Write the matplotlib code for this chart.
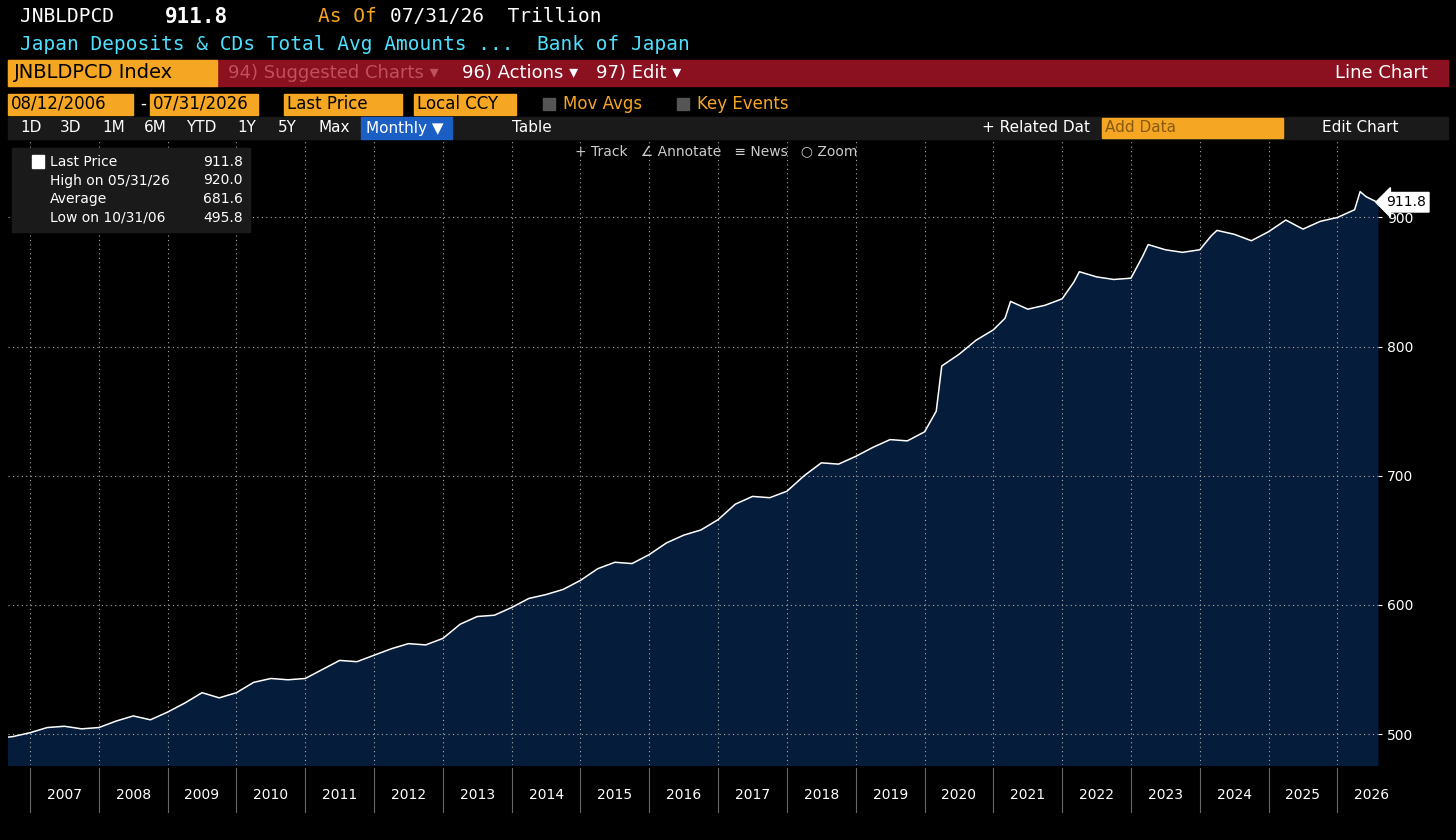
import numpy as np
import matplotlib.pyplot as plt
from matplotlib.patches import Rectangle

# decimal years and values
years = [2006.58, 2006.75, 2007.0, 2007.25, 2007.5, 2007.75, 2008.0, 2008.25, 2008.5, 2008.75,
         2009.0, 2009.25, 2009.5, 2009.75, 2010.0, 2010.25, 2010.5, 2010.75, 2011.0, 2011.25,
         2011.5, 2011.75, 2012.0, 2012.25, 2012.5, 2012.75, 2013.0, 2013.25, 2013.5, 2013.75,
         2014.0, 2014.25, 2014.5, 2014.75, 2015.0, 2015.25, 2015.5, 2015.75, 2016.0, 2016.25,
         2016.5, 2016.75, 2017.0, 2017.25, 2017.5, 2017.75, 2018.0, 2018.25, 2018.5, 2018.75,
         2019.0, 2019.25, 2019.5, 2019.75, 2020.0, 2020.17, 2020.25, 2020.5, 2020.75, 2021.0,
         2021.17, 2021.25, 2021.5, 2021.75, 2022.0, 2022.17, 2022.25, 2022.5, 2022.75, 2023.0,
         2023.17, 2023.25, 2023.5, 2023.75, 2024.0, 2024.17, 2024.25, 2024.5, 2024.75, 2025.0,
         2025.25, 2025.5, 2025.75, 2026.0, 2026.25, 2026.33, 2026.42, 2026.58]
values = [497, 498, 501, 505, 506, 504, 505, 510, 514, 511,
          517, 524, 532, 528, 532, 540, 543, 542, 543, 550,
          557, 556, 561, 566, 570, 569, 574, 585, 591, 592,
          598, 605, 608, 612, 619, 628, 633, 632, 639, 648,
          654, 658, 666, 678, 684, 683, 688, 700, 710, 709,
          715, 722, 728, 727, 734, 750, 785, 794, 805, 813,
          822, 835, 829, 832, 837, 850, 858, 854, 852, 853,
          870, 879, 875, 873, 875, 886, 890, 887, 882, 889,
          898, 891, 897, 900, 906, 920, 916, 911.8]
year_labels = list(range(2007, 2027))
y_ticks = [500, 600, 700, 800, 900]

W, H = 1456, 840
fig = plt.figure(figsize=(W / 100, H / 100), dpi=100, facecolor='black')
mono = 'DejaVu Sans Mono'
orange = '#f5a623'
cyan = '#4de0ff'

def px(x, y):
    return x / W, 1 - y / H

# header
fig.text(*px(20, 17), 'JNBLDPCD', color='white', family=mono, fontsize=14, va='center')
fig.text(*px(165, 17), '911.8', color='white', family=mono, fontsize=15, weight='bold', va='center')
fig.text(*px(318, 17), 'As Of', color=orange, family=mono, fontsize=14, va='center')
fig.text(*px(390, 17), '07/31/26  Trillion', color='white', family=mono, fontsize=14, va='center')
fig.text(*px(20, 44), 'Japan Deposits & CDs Total Avg Amounts ...  Bank of Japan', color=cyan,
         family=mono, fontsize=14, va='center')

# toolbar bars
def box(x0, y0, x1, y1, color):
    fig.patches.append(Rectangle(px(x0, y1), (x1 - x0) / W, (y1 - y0) / H,
                                 transform=fig.transFigure, color=color, zorder=0))

box(8, 60, 1448, 86, '#8b1020')
box(8, 60, 217, 86, orange)
fig.text(*px(14, 73), 'JNBLDPCD Index', color='black', fontsize=14, va='center')
fig.text(*px(228, 73), '94) Suggested Charts ▾', color='#c0505a', fontsize=13, va='center')
fig.text(*px(462, 73), '96) Actions ▾', color='white', fontsize=13, va='center')
fig.text(*px(596, 73), '97) Edit ▾', color='white', fontsize=13, va='center')
fig.text(*px(1335, 73), 'Line Chart', color='white', fontsize=13, va='center')
for x0, x1, t in [(8, 133, '08/12/2006'), (150, 258, '07/31/2026'), (284, 402, 'Last Price'),
                  (414, 516, 'Local CCY')]:
    box(x0, 94, x1, 115, orange)
    fig.text(*px(x0 + 3, 104), t, color='black', fontsize=12, va='center')
fig.text(*px(140, 104), '-', color='white', fontsize=12, va='center')
box(543, 98, 555, 110, '#555555')
box(677, 98, 689, 110, '#555555')
fig.text(*px(563, 104), 'Mov Avgs', color=orange, fontsize=12, va='center')
fig.text(*px(697, 104), 'Key Events', color=orange, fontsize=12, va='center')
box(8, 117, 1448, 139, '#1a1a1a')
for x, t in [(20, '1D'), (60, '3D'), (102, '1M'), (144, '6M'), (186, 'YTD'), (237, '1Y'),
             (278, '5Y'), (318, 'Max')]:
    fig.text(*px(x, 128), t, color='white', fontsize=11, va='center')
box(361, 117, 452, 139, '#1c5fc4')
fig.text(*px(366, 128), 'Monthly ▼', color='white', fontsize=11, va='center')
fig.text(*px(512, 128), 'Table', color='white', fontsize=11, va='center')
fig.text(*px(982, 128), '+ Related Dat', color='white', fontsize=11, va='center')
box(1102, 118, 1283, 138, orange)
fig.text(*px(1105, 128), 'Add Data', color='#8a5a10', fontsize=11, va='center')
fig.text(*px(1322, 128), 'Edit Chart', color='white', fontsize=11, va='center')

# chart
ax = fig.add_axes([8 / W, 75 / H, 1370 / W, 625 / H], facecolor='black')
ax.fill_between(years, values, 470, color='#051d3a', zorder=1)
ax.plot(years, values, color='white', lw=1.1, zorder=2)
ax.set_xlim(2006.68, 2026.59)
ax.set_ylim(476, 960)
ax.set_xticks(year_labels)
ax.set_xticklabels([])
ax.set_yticks(y_ticks)
ax.yaxis.tick_right()
ax.tick_params(axis='y', colors='white', labelsize=10, length=3)
ax.tick_params(axis='x', length=0)
ax.grid(True, color='#aaaaaa', ls=(0, (1, 3)), lw=0.8)
for s in ax.spines.values():
    s.set_visible(False)
for yr in year_labels:
    ax.text(yr + 0.5, -0.048, str(yr), transform=ax.get_xaxis_transform(), color='white',
            fontsize=10, ha='center', va='center')
    ax.plot([yr, yr], [-0.075, -0.005], transform=ax.get_xaxis_transform(), color='#666666',
            lw=0.8, clip_on=False)
ax.annotate(f'{values[-1]:.1f}', (1.0, values[-1]), xycoords=('axes fraction', 'data'),
            xytext=(6, 0), textcoords='offset points', va='center', fontsize=10, color='black',
            bbox=dict(boxstyle='larrow,pad=0.2', fc='white', ec='white'))

# legend box
box(12, 148, 250, 232, '#1a1a1a')
rows = [('Last Price', '911.8'), ('High on 05/31/26', '920.0'), ('Average', '681.6'),
        ('Low on 10/31/06', '495.8')]
for i, (a, b) in enumerate(rows):
    y = 162 + i * 18.5
    fig.text(*px(50, y), a, color='white', fontsize=10, va='center')
    fig.text(*px(243, y), b, color='white', fontsize=10, va='center', ha='right')
box(32, 155, 44, 168, 'white')
fig.text(*px(575, 151), '+ Track   ∠ Annotate   ≡ News   ○ Zoom', color='#cccccc',
         fontsize=10, va='center')

fig.savefig('out.png', dpi=100, facecolor='black')
